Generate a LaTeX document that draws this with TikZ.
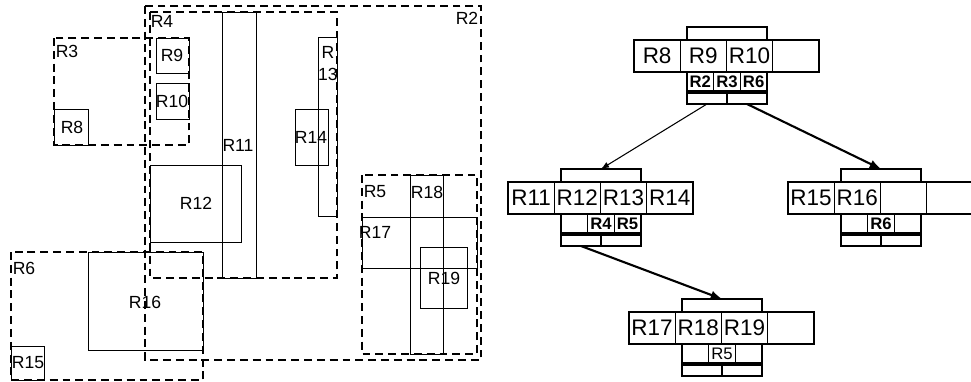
\documentclass[tikz,border=0pt]{standalone}
\usepackage{fontspec}
\setmainfont{Liberation Sans}
\usetikzlibrary{positioning}

% no da arvore: barra, quatro celulas, tres etiquetas, fundo
\newcommand{\noarvore}[9]{%
\begin{scope}[shift={#2}]
  \node[barra] (#1bar) at (53,0) {};
  \node[celula] (#1c1) at (0,13) {#3};
  \node[celula, right=0pt of #1c1] (#1c2) {#4};
  \node[celula, right=0pt of #1c2] (#1c3) {#5};
  \node[celula, right=0pt of #1c3] (#1c4) {#6};
  \node[etiq] (#1e1) at (53,45) {#7};
  \node[etiq, right=0pt of #1e1] (#1e2) {#8};
  \node[etiq, right=0pt of #1e2] (#1e3) {#9};
  \node[fundo] (#1b1) at (53,66) {};
  \node[fundo, right=0pt of #1b1] (#1b2) {};
\end{scope}}

\begin{document}
\begin{tikzpicture}[x=0.02cm, y=-0.02cm, >=latex,
    regiao/.style={draw, line width=1.1pt, dash pattern=on 4.5pt off 2.8pt},
    caixa/.style={draw, line width=0.5pt},
    rotulo/.style={inner sep=0pt, font=\fontsize{10}{12.5}\selectfont},
    celula/.style={draw, rectangle, line width=0.7pt, inner sep=0pt, outer sep=0pt, anchor=north west,
        minimum width=0.925cm, minimum height=0.64cm, font=\fontsize{12.8}{14}\selectfont},
    barra/.style={draw, line width=0.7pt, inner sep=0pt, outer sep=0pt, anchor=north west,
        minimum width=1.6cm, minimum height=0.26cm},
    etiq/.style={draw, line width=0.7pt, inner sep=0pt, outer sep=0pt, anchor=north west,
        minimum width=0.533cm, minimum height=0.38cm, font=\fontsize{9.5}{10}\selectfont\bfseries},
    fundo/.style={draw, line width=0.7pt, inner sep=0pt, outer sep=0pt, anchor=north west,
        minimum width=0.8cm, minimum height=0.22cm}]

\useasboundingbox (0,0) rectangle (971,382);

% regioes tracejadas
\draw[regiao] (145,6) rectangle (481,360);
\draw[regiao] (150,12) rectangle (337,278);
\draw[regiao] (54,38) rectangle (189,145);
\draw[regiao] (362,175) rectangle (477,354);
\draw[regiao] (11,252) rectangle (203,380);

% retangulos de dados
\draw[caixa] (54,109) rectangle (88,145);
\draw[caixa] (156,38) rectangle (189,73);
\draw[caixa] (156,83) rectangle (189,119);
\draw[caixa] (222,12) rectangle (256,278);
\draw[caixa] (150,165) rectangle (241,242);
\draw[caixa] (318,37) rectangle (337,216);
\draw[caixa] (295,109) rectangle (328,165);
\draw[caixa] (88,252) rectangle (203,350);
\draw[caixa] (11,346) rectangle (44,380);
\draw[caixa] (362,217) rectangle (477,268);
\draw[caixa] (410,175) rectangle (443,354);
\draw[caixa] (420,247) rectangle (467,308);

% nomes das regioes
\node[rotulo] (l2) at (467,18) {R2};
\node[rotulo] (l3) at (67,51) {R3};
\node[rotulo] (l4) at (162,21) {R4};
\node[rotulo] (l5) at (375,192) {R5};
\node[rotulo] (l6) at (24,268) {R6};
\node[rotulo] (l8) at (72,127) {R8};
\node[rotulo] (l9) at (172,55) {R9};
\node[rotulo] (l10) at (172,101) {R10};
\node[rotulo] (l11) at (238,145) {R11};
\node[rotulo] (l12) at (196,203) {R12};
\node[rotulo, align=center] (l13) at (328,64) {R\\13};
\node[rotulo] (l14) at (311,137) {R14};
\node[rotulo] (l15) at (28,363) {R15};
\node[rotulo] (l16) at (145,302) {R16};
\node[rotulo] (l17) at (375,232) {R17};
\node[rotulo] (l18) at (427,192) {R18};
\node[rotulo] (l19) at (444,278) {R19};

% arvore
\noarvore{raiz}{(634,27)}{R8}{R9}{R10}{}{R2}{R3}{R6}
\noarvore{esq}{(508,169)}{R11}{R12}{R13}{R14}{}{R4}{R5}
\noarvore{dir}{(788,169)}{R15}{R16}{}{}{}{R6}{}
\noarvore{baixo}{(629,299)}{R17}{R18}{R19}{}{}{\mdseries R5}{}

\draw[->, line width=0.6pt] (raizb1.south) -- (esqbar.north);
\draw[->, line width=1.2pt] (raizb2.south) -- (dirbar.north);
\draw[->, line width=1.2pt] (esqb1.south) -- (baixobar.north);

\end{tikzpicture}
\end{document}
